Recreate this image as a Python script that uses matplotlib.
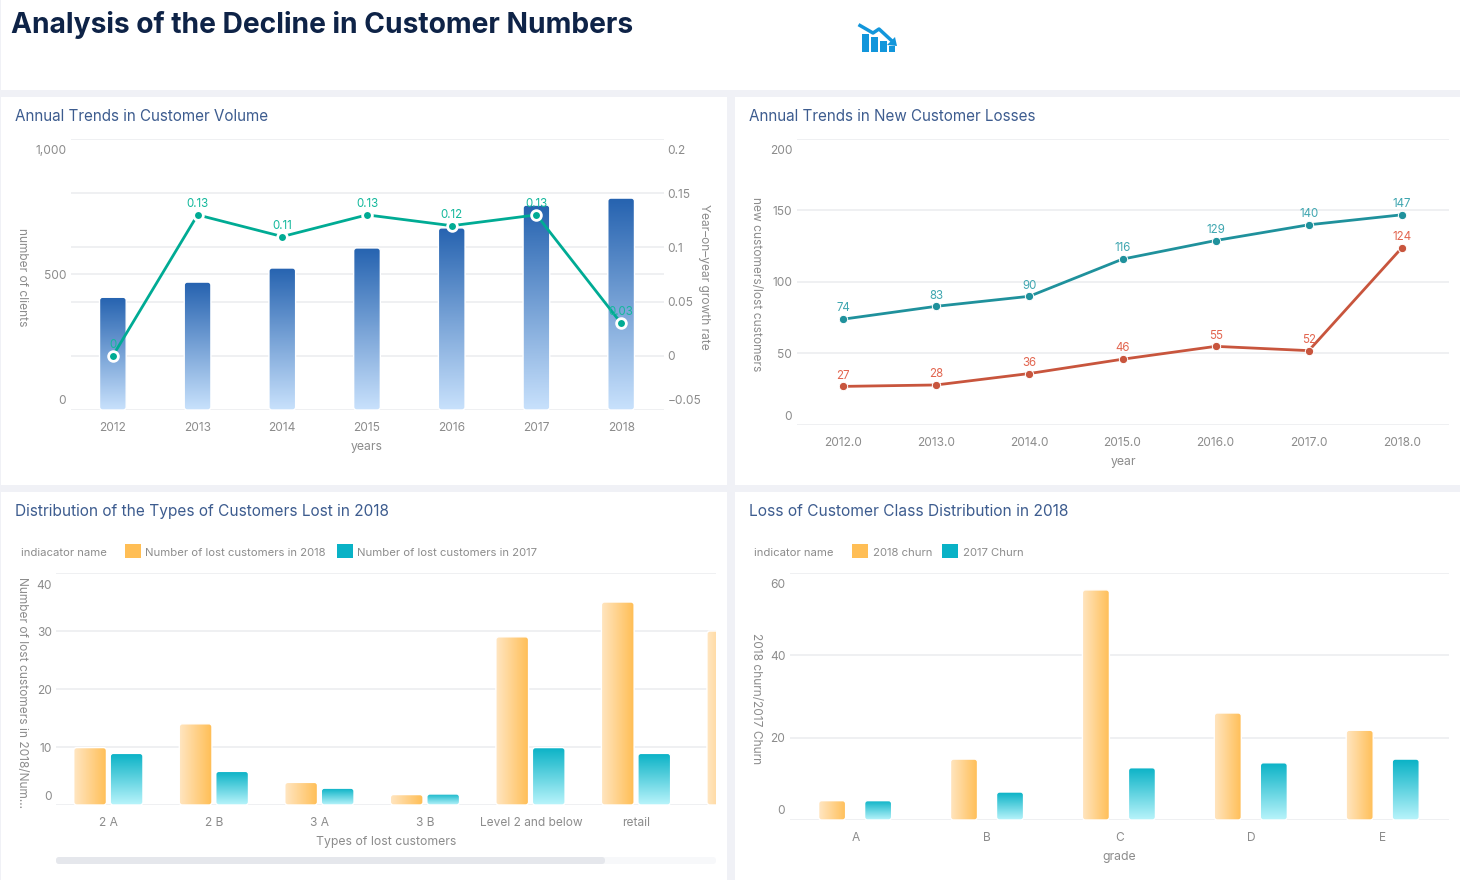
import numpy as np
import matplotlib
matplotlib.use("Agg")
import matplotlib.pyplot as plt
from matplotlib.colors import to_rgb
from matplotlib.patches import FancyBboxPatch, Rectangle, Polygon
from matplotlib.transforms import IdentityTransform, ScaledTranslation

# ---------- data ----------
years = ["2012", "2013", "2014", "2015", "2016", "2017", "2018"]
clients = [416, 472, 524, 598, 672, 756, 782]
growth = [0, 0.13, 0.11, 0.13, 0.12, 0.13, 0.03]
growth_labels = ["0", "0.13", "0.11", "0.13", "0.12", "0.13", "0.03"]

loss_years = ["2012.0", "2013.0", "2014.0", "2015.0", "2016.0", "2017.0", "2018.0"]
new_customers = [74, 83, 90, 116, 129, 140, 147]
lost_customers = [27, 28, 36, 46, 55, 52, 124]

lost_types = ["2 A", "2 B", "3 A", "3 B", "Level 2 and below", "retail"]
lost_2018 = [9.9, 14, 3.9, 1.8, 29, 35, 30]      # last category scrolled out of view
lost_2017 = [8.9, 5.8, 2.9, 1.9, 9.9, 8.9]

grades = ["A", "B", "C", "D", "E"]
churn_2018 = [4.7, 14.8, 55.9, 26, 21.8]
churn_2017 = [4.7, 6.8, 12.7, 13.9, 14.8]

# ---------- style ----------
W, H = 1460, 880
FONT = ["Inter", "DejaVu Sans"]
plt.rcParams["font.family"] = FONT
GRID = "#ebecef"
TICK = "#8c8c8c"
TITLE = "#3d5c8f"
BLUE = ("#2663b0", "#c8e1fc")
ORANGE = ("#ffe6c2", "#ffbe55")
CYAN = ("#09b2c6", "#b9f4fb")

fig = plt.figure(figsize=(W / 100, H / 100), dpi=100, facecolor="#f0f1f6")


def px_rect(x0, y0, x1, y1, color):
    fig.add_artist(Rectangle((x0 / W, 1 - y1 / H), (x1 - x0) / W, (y1 - y0) / H,
                             transform=fig.transFigure, fc=color, ec="none", zorder=-2))


def px_text(x, y, s, **kw):
    kw.setdefault("va", "center")
    return fig.text(x / W, 1 - y / H, s, **kw)


def make_ax(x0, ytop, x1, ybot):
    ax = fig.add_axes([x0 / W, 1 - ybot / H, (x1 - x0) / W, (ybot - ytop) / H])
    ax.patch.set_alpha(0)
    for s in ax.spines.values():
        s.set_visible(False)
    ax.set_autoscale_on(False)
    return ax


def style_y(ax, ticks, labels, low_px=10, high_px=11):
    ax.set_yticks(ticks)
    ax.set_yticklabels(labels)
    ax.tick_params(axis="y", length=0, pad=3, labelsize=8.6, labelcolor=TICK)
    # the first and last tick labels sit inside the plot, as in the reference
    for tick, dy in ((ax.yaxis.get_major_ticks()[0], low_px),
                     (ax.yaxis.get_major_ticks()[-1], -high_px)):
        shift = ScaledTranslation(0, dy / 100, fig.dpi_scale_trans)
        tick.label1.set_transform(tick.label1.get_transform() + shift)
        tick.label2.set_transform(tick.label2.get_transform() + shift)


def style_x(ax, ticks, labels, pad=8.4):
    ax.set_xticks(ticks)
    ax.set_xticklabels(labels)
    ax.tick_params(axis="x", length=0, pad=pad, labelsize=8.6, labelcolor=TICK)


def axis_labels(ax, box, xlabel, ylabel, xlab_px, ylab_px):
    x0, ytop, x1, ybot = box
    ax.set_xlabel(xlabel, color=TICK, fontsize=8.8, va="center")
    ax.xaxis.set_label_coords((xlab_px[0] - x0) / (x1 - x0), (ybot - xlab_px[1]) / (ybot - ytop))
    ax.set_ylabel(ylabel, color=TICK, fontsize=8.6, rotation=270, va="center", ha="center")
    ax.yaxis.set_label_coords((ylab_px[0] - x0) / (x1 - x0), (ybot - ylab_px[1]) / (ybot - ytop))


def grad_bar(ax, xc, width, value, colors, horizontal=False, radius=3):
    c0, c1 = np.array(to_rgb(colors[0])), np.array(to_rgb(colors[1]))
    t = np.linspace(0, 1, 128)
    ramp = c0[None, :] * (1 - t[:, None]) + c1[None, :] * t[:, None]
    img = ramp[None, :, :] if horizontal else ramp[:, None, :]
    xl, xr = xc - width / 2, xc + width / 2
    im = ax.imshow(img, extent=[xl, xr, 0, value], aspect="auto", origin="upper",
                   interpolation="bilinear", zorder=2)
    p0 = ax.transData.transform((xl, 0))
    p1 = ax.transData.transform((xr, value))
    r = min(radius, (p1[1] - p0[1]) / 2)
    box = FancyBboxPatch(p0, p1[0] - p0[0], p1[1] - p0[1],
                         boxstyle=f"round,pad=0,rounding_size={r}",
                         transform=IdentityTransform(), fc="none", ec="white",
                         lw=1.0, zorder=2.1)
    ax.add_patch(box)
    im.set_clip_path(box)


# ---------- page ----------
px_rect(1, 0, 1460, 90, "white")
px_rect(1, 97, 727, 485, "white")
px_rect(735, 97, 1460, 485, "white")
px_rect(1, 492, 727, 880, "white")
px_rect(735, 492, 1460, 880, "white")

px_text(11, 25, "Analysis of the Decline in Customer Numbers", fontsize=20.3,
        fontweight="bold", color="#0e2347")
for x, y, s, fs in [(15, 116.5, "Annual Trends in Customer Volume", 10.95),
                    (749, 116.5, "Annual Trends in New Customer Losses", 10.95),
                    (15, 511.5, "Distribution of the Types of Customers Lost in 2018", 11.12),
                    (749, 511.5, "Loss of Customer Class Distribution in 2018", 11.18)]:
    px_text(x, y, s, fontsize=fs, color=TITLE)

# header icon
ICON = "#1296db"
for bx0, bx1, bt in [(862, 868.5, 34), (871, 878, 37), (880, 887, 41), (889, 895, 46)]:
    px_rect(bx0, bt, bx1, 52, ICON)
trend = np.array([(860, 25.5), (873, 33), (879, 29), (892, 41)])
fig.add_artist(plt.Line2D(trend[:, 0] / W, 1 - trend[:, 1] / H, color=ICON, lw=2.5,
                          transform=fig.transFigure))
head = np.array([(887, 45), (897, 46), (895, 37)])
fig.add_artist(Polygon(np.c_[head[:, 0] / W, 1 - head[:, 1] / H], closed=True, fc=ICON, ec="none",
                       transform=fig.transFigure))

# ---------- panel 1 ----------
box1 = (70.5, 139, 663.5, 410)
ax1 = make_ax(*box1)
ax1.set_xlim(-0.5, 6.5)
ax1.set_ylim(0, 1000)
x1 = np.arange(len(years))
r_ticks = [-0.05, 0, 0.05, 0.1, 0.15, 0.2]
r_labels = ["\u22120.05", "0", "0.05", "0.1", "0.15", "0.2"]
style_y(ax1, [0, 500, 1000], ["0", "500", "1,000"])
ax1.set_yticks([(v + 0.05) / 0.25 * 1000 for v in r_ticks], minor=True)
ax1.tick_params(axis="y", which="minor", length=0)
ax1.grid(True, axis="y", which="both", color=GRID, lw=1.1, zorder=0)
ax1.set_axisbelow(True)
style_x(ax1, x1, years)
axis_labels(ax1, box1, "years", "number of clients", (367, 447), (22, 277))
for xi, v in zip(x1, clients):
    grad_bar(ax1, xi, 0.315, v, BLUE)

ax1b = ax1.twinx()
ax1b.patch.set_alpha(0)
for s in ax1b.spines.values():
    s.set_visible(False)
ax1b.set_ylim(-0.05, 0.2)
style_y(ax1b, r_ticks, r_labels)
ax1b.set_ylabel("Year\u2013on\u2013year growth rate", color=TICK, fontsize=8.6, rotation=270,
                va="center", ha="center")
ax1b.yaxis.set_label_coords((704 - 70.5) / 593, (410 - 276.5) / 271)
ax1b.plot(x1, growth, color="#00ab94", lw=2.0, marker="o", ms=7, mfc="#00ab94",
          mec="white", mew=2.0, zorder=5)
for xi, v, s in zip(x1, growth, growth_labels):
    ax1b.annotate(s, (xi, v), xytext=(0, 3.6), textcoords="offset points", ha="center",
                  va="bottom", fontsize=8.3, color="#14b89c", zorder=6)

# ---------- panel 2 ----------
box2 = (796.5, 139, 1448.5, 425)
ax2 = make_ax(*box2)
ax2.set_xlim(-0.5, 6.5)
ax2.set_ylim(0, 200)
x2 = np.arange(len(loss_years))
style_y(ax2, [0, 50, 100, 150, 200], ["0", "50", "100", "150", "200"])
ax2.grid(True, axis="y", color=GRID, lw=1.1)
ax2.set_axisbelow(True)
style_x(ax2, x2, loss_years)
axis_labels(ax2, box2, "year", "new customers/lost customers", (1123, 462), (756, 284))
for vals, col, lab in [(new_customers, "#1f919c", "#3fa6b0"), (lost_customers, "#c8553d", "#e2654f")]:
    ax2.plot(x2, vals, color=col, lw=2.0, marker="o", ms=6, mfc=col, mec="white", mew=0.7, zorder=4)
    for xi, v in zip(x2, vals):
        ax2.annotate(str(v), (xi, v), xytext=(0, 3.4), textcoords="offset points", ha="center",
                     va="bottom", fontsize=8.3, color=lab, zorder=5)

# ---------- panel 3 ----------
box3 = (56, 573, 716, 805)
ax3 = make_ax(*box3)
ax3.set_xlim(-0.5, 5.754)
ax3.set_ylim(0, 40)
style_y(ax3, [0, 10, 20, 30, 40], ["0", "10", "20", "30", "40"])
ax3.grid(True, axis="y", color=GRID, lw=1.1)
ax3.set_axisbelow(True)
style_x(ax3, np.arange(len(lost_types)), lost_types)
axis_labels(ax3, box3, "Types of lost customers", "Number of lost customers in 2018/Num...",
            (386, 842), (22, 692))
for xi, v in enumerate(lost_2018):
    grad_bar(ax3, xi - 0.177, 0.31, v, ORANGE, horizontal=True)
for xi, v in enumerate(lost_2017):
    grad_bar(ax3, xi + 0.169, 0.31, v, CYAN)

# legend + scrollbar, panel 3
px_text(21, 553, "indiacator name", fontsize=8.15, color=TICK)
px_rect(125, 544, 140.5, 558, ORANGE[1])
px_text(145, 553, "Number of lost customers in 2018", fontsize=8.15, color=TICK)
px_rect(337, 544, 352.5, 558, CYAN[0])
px_text(357, 553, "Number of lost customers in 2017", fontsize=8.15, color=TICK)
fig.add_artist(FancyBboxPatch((56, H - 864), 660, 7, boxstyle="round,pad=0,rounding_size=3",
                              transform=IdentityTransform(), fc="#f7f8fa", ec="none"))
fig.add_artist(FancyBboxPatch((56, H - 864), 549, 7, boxstyle="round,pad=0,rounding_size=3",
                              transform=IdentityTransform(), fc="#e5e7ec", ec="none"))

# ---------- panel 4 ----------
box4 = (789.5, 573, 1449, 820)
ax4 = make_ax(*box4)
ax4.set_xlim(-0.5, 4.5)
ax4.set_ylim(0, 60)
style_y(ax4, [0, 20, 40, 60], ["0", "20", "40", "60"])
ax4.grid(True, axis="y", color=GRID, lw=1.1)
ax4.set_axisbelow(True)
style_x(ax4, np.arange(len(grades)), grades)
axis_labels(ax4, box4, "grade", "2018 churn/2017 Churn", (1119, 857), (756, 699))
for xi, v in enumerate(churn_2018):
    grad_bar(ax4, xi - 0.177, 0.205, v, ORANGE, horizontal=True)
for xi, v in enumerate(churn_2017):
    grad_bar(ax4, xi + 0.172, 0.205, v, CYAN)

px_text(754, 553, "indicator name", fontsize=8.15, color=TICK)
px_rect(852, 544, 867.5, 558, ORANGE[1])
px_text(873, 553, "2018 churn", fontsize=8.15, color=TICK)
px_rect(942, 544, 957.5, 558, CYAN[0])
px_text(963, 553, "2017 Churn", fontsize=8.15, color=TICK)

fig.savefig("out.png", dpi=100, facecolor=fig.get_facecolor())
